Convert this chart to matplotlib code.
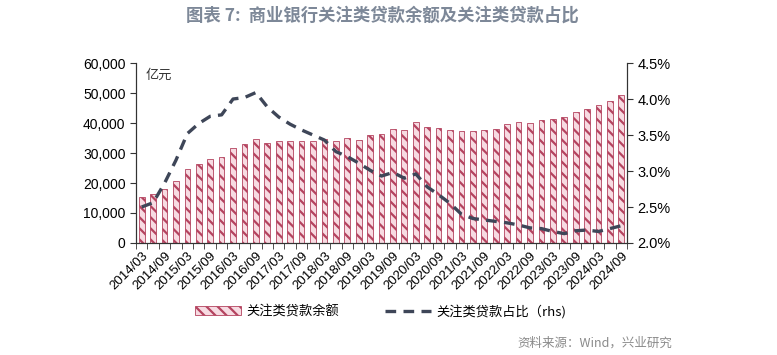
import matplotlib
matplotlib.use("Agg")
import matplotlib.pyplot as plt
from matplotlib.ticker import FuncFormatter, FixedLocator

plt.rcParams['font.family'] = ['Noto Sans CJK SC', 'DejaVu Sans']
plt.rcParams['hatch.linewidth'] = 1.6

# quarterly data 2014/03 - 2024/09
quarters = [f"{y}/{m}" for y in range(2014, 2025) for m in ("03", "06", "09", "12")][:43]

balance = [15200, 16200, 17900, 20700, 24600, 26200, 27900, 28600, 31600, 32900,
           34600, 33200, 34000, 34000, 34000, 34000, 34600, 34000, 35100, 34300,
           36000, 36200, 38000, 37600, 40400, 38700, 38200, 37700, 37300, 37400,
           37800, 38000, 39700, 40300, 40000, 41000, 41400, 42100, 43800, 44600,
           46000, 47400, 49300]

ratio = [2.50, 2.56, 2.83, 3.15, 3.52, 3.66, 3.76, 3.78, 4.00, 4.02,
         4.09, 3.89, 3.75, 3.65, 3.57, 3.50, 3.43, 3.27, 3.20, 3.11,
         3.01, 2.93, 2.98, 2.90, 2.96, 2.78, 2.67, 2.55, 2.40, 2.34,
         2.32, 2.30, 2.28, 2.25, 2.21, 2.20, 2.16, 2.13, 2.17, 2.18,
         2.16, 2.20, 2.24]

fig = plt.figure(figsize=(7.77, 3.55), dpi=100)
ax = fig.add_axes([0.175, 0.3155, 0.632, 0.507])
ax2 = ax.twinx()

x = list(range(len(quarters)))

# bars
bars = ax.bar(x, balance, width=0.5, color="#f7dbe2", edgecolor="#b4435f",
              hatch="\\\\\\", linewidth=0.6, label="关注类贷款余额", zorder=2)

# ratio line
line, = ax2.plot(x, ratio, color="#3e4658", linewidth=2.4, linestyle=(0, (3.2, 2.2)),
                 label="关注类贷款占比（rhs)", zorder=3)

ax.set_xlim(-0.5, len(quarters) - 0.5)
ax.set_ylim(0, 60000)
ax.set_yticks(range(0, 60001, 10000))
ax.yaxis.set_major_formatter(FuncFormatter(lambda v, p: f"{int(v):,}"))
ax2.set_ylim(2.0, 4.5)
ax2.set_yticks([2.0, 2.5, 3.0, 3.5, 4.0, 4.5])
ax2.yaxis.set_major_formatter(FuncFormatter(lambda v, p: f"{v:.1f}%"))

ax.set_xticks(x[::2])
ax.set_xticklabels(quarters[::2], rotation=45, ha="right", rotation_mode="anchor",
                   fontsize=9.5, family="Liberation Sans")
ax.xaxis.set_minor_locator(FixedLocator([i - 0.5 for i in range(len(quarters) + 1)]))
ax.tick_params(axis="x", which="major", length=0, pad=5)
ax.tick_params(axis="x", which="minor", length=4, direction="out", color="#333333")
ax.tick_params(axis="y", length=4, direction="out", labelsize=10, color="#333333")
ax2.tick_params(axis="y", length=4, direction="out", labelsize=10.5, color="#333333")
for lbl in ax.get_yticklabels() + ax2.get_yticklabels():
    lbl.set_family("Liberation Sans")

for a in (ax, ax2):
    a.spines["top"].set_visible(False)
    for s in ("left", "right", "bottom"):
        a.spines[s].set_color("#333333")
        a.spines[s].set_linewidth(0.8)

ax.text(0.02, 0.93, "亿元", transform=ax.transAxes, fontsize=9.5, color="#333333",
        va="center", ha="left")

fig.text(0.492, 0.955, "图表 7:  商业银行关注类贷款余额及关注类贷款占比",
         ha="center", va="center", fontsize=12.5, fontweight="bold", color="#7d8898")

fig.legend([bars, line], ["关注类贷款余额", "关注类贷款占比（rhs)"],
           loc="center", bbox_to_anchor=(0.49, 0.123), ncol=2, frameon=False,
           fontsize=9.5, handlelength=3.5, columnspacing=3.5, handletextpad=0.4)

fig.text(0.865, 0.032, "资料来源：Wind，兴业研究", ha="right", va="center",
         fontsize=9, color="#8a8a8a")

fig.savefig("out.png", dpi=100)
